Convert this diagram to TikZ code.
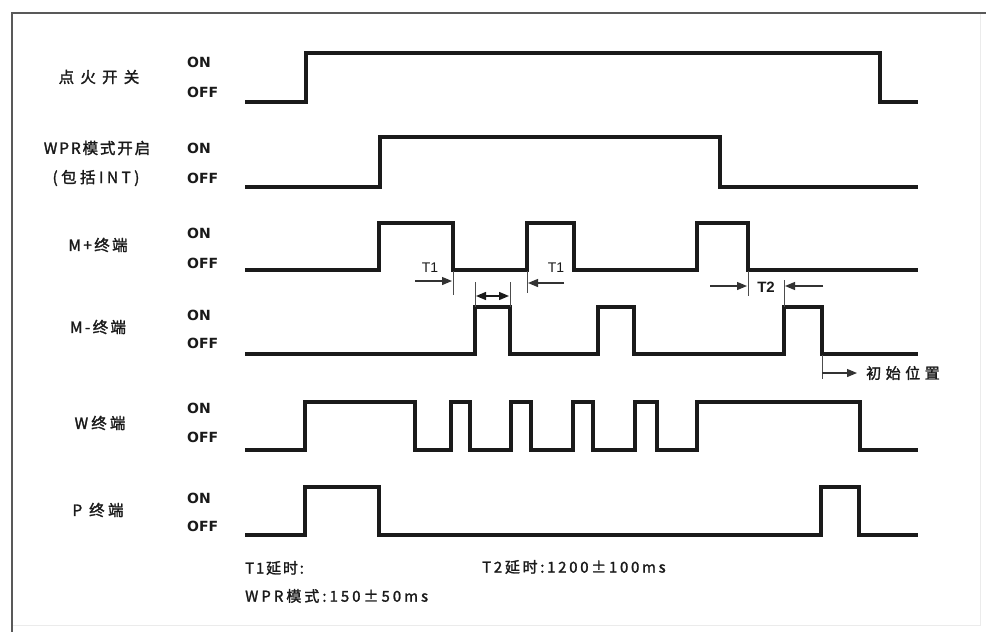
\documentclass[tikz,border=0pt]{standalone}
\usepackage{fontspec}
\setmainfont{Liberation Sans}
\newfontfamily\cjk[FakeBold=1.6]{Noto Sans CJK SC}
\newfontfamily\onoff{DejaVu Sans}
\usetikzlibrary{arrows.meta}
\newcommand{\lsp}[2]{{\addfontfeature{LetterSpace=#1}#2}}
\definecolor{ink}{HTML}{1A1A1A}
\tikzset{
  wave/.style={line width=3.3pt, ink, line join=miter},
  dimline/.style={line width=1pt, black!70},
  arr/.style={line width=1.2pt, black!80, -{Triangle[length=10pt,width=8pt]}},
  darr/.style={line width=1.4pt, ink, {Triangle[length=10pt,width=8pt]}-{Triangle[length=10pt,width=8pt]}},
  sig/.style={font=\cjk\fontsize{15.5}{17}\selectfont, text=ink, anchor=center, inner sep=0pt},
  st/.style={font=\onoff\bfseries\fontsize{14}{16}\selectfont, text=ink, anchor=west, inner sep=0pt},
  note/.style={font=\cjk\fontsize{15}{17}\selectfont, text=ink, anchor=west, inner sep=0pt},
  tlab/.style={font=\fontsize{14}{16}\selectfont, text=ink, inner sep=0pt},
}
\begin{document}
\begin{tikzpicture}[x=1pt,y=-1pt]
\useasboundingbox (0,0) rectangle (986,632);
\fill[white] (0,0) rectangle (986,632);
% frame
\draw[black!8, line width=1pt] (980,13) -- (980,625) -- (12,625);
\draw[black!65, line width=2.5pt] (986,13) -- (12,13) -- (12,632);

% signal names
\node[sig] (n1) at (99,77) {\lsp{40}{点火开关}};
\node[sig] (n2) at (97,148) {\lsp{12}{WPR模式开启}};
\node[sig] (n2b) at (96,178) {\lsp{22}{(包括INT)}};
\node[sig] (n3) at (98,245) {\lsp{15}{M+终端}};
\node[sig] (n4) at (98,327) {\lsp{15}{M-终端}};
\node[sig] (n5) at (100,423) {\lsp{20}{W终端}};
\node[sig] (n6) at (98,510) {\lsp{22}{P 终端}};

% ON / OFF
\foreach \i/\yon/\yoff in {1/62/92, 2/148/178, 3/233/263, 4/315/343, 5/408/437, 6/498/526}{
  \node[st] (on\i) at (187,\yon) {ON};
  \node[st] (off\i) at (187,\yoff) {OFF};
}

% waveforms
\draw[wave] (245,102) -| (306,53) -| (880,102) -- (918,102);
\draw[wave] (245,187) -| (380,137) -| (720,187) -- (918,187);
\draw[wave] (245,270) -| (379,223) -| (453,270) -| (527,223) -| (574,270)
            -| (697,223) -| (748,270) -- (918,270);
\draw[wave] (245,354) -| (475,307) -| (510,354) -| (598,307) -| (634,354)
            -| (784,307) -| (822,354) -- (918,354);
\draw[wave] (245,450) -| (305,402) -| (415,450) -| (451,402) -| (470,450)
            -| (511,402) -| (531,450) -| (573,402) -| (593,450)
            -| (635,402) -| (657,450) -| (697,402) -| (860,450) -- (918,450);
\draw[wave] (245,535) -| (305,487) -| (379,535) -| (821,487) -| (859,535) -- (918,535);

% T1 (first)
\coordinate (a1s) at (415,281);
\coordinate (a1e) at (452,281);
\draw[dimline] (453,271) -- (453,295);
\draw[arr] (a1s) -- (a1e);
\node[tlab] (t1a) at (430,268) {T1};
% pulse width
\coordinate (b1) at (476,296);
\coordinate (b2) at (509,296);
\draw[dimline] (475,282) -- (475,307);
\draw[dimline] (510,282) -- (510,307);
\draw[darr] (b1) -- (b2);
% T1 (second)
\coordinate (c1s) at (564,283);
\coordinate (c1e) at (528,283);
\draw[dimline] (527,271) -- (527,293);
\draw[arr] (c1s) -- (c1e);
\node[tlab] (t1b) at (556,268) {T1};
% T2
\coordinate (d1s) at (710,286);
\coordinate (d1e) at (747,286);
\draw[dimline] (748,271) -- (748,296);
\draw[arr] (d1s) -- (d1e);
\node[tlab, font=\bfseries\fontsize{15}{17}\selectfont] (t2) at (766,287) {T2};
\coordinate (d2s) at (823,286);
\coordinate (d2e) at (785,286);
\draw[dimline] (784,280) -- (784,307);
\draw[arr] (d2s) -- (d2e);
% initial position
\coordinate (e1s) at (822,373);
\coordinate (e1e) at (857,373);
\draw[dimline] (822,355) -- (822,379);
\draw[arr] (e1s) -- (e1e);
\node[note] (init) at (866,373) {\lsp{30}{初始位置}};

% notes
\node[note] (m1) at (245,568) {\lsp{12}{T1延时:}};
\node[note] (m2) at (245,596) {\lsp{20}{WPR模式:150±50ms}};
\node[note] (m3) at (482,567) {\lsp{18}{T2延时:1200±100ms}};
\end{tikzpicture}
\end{document}
